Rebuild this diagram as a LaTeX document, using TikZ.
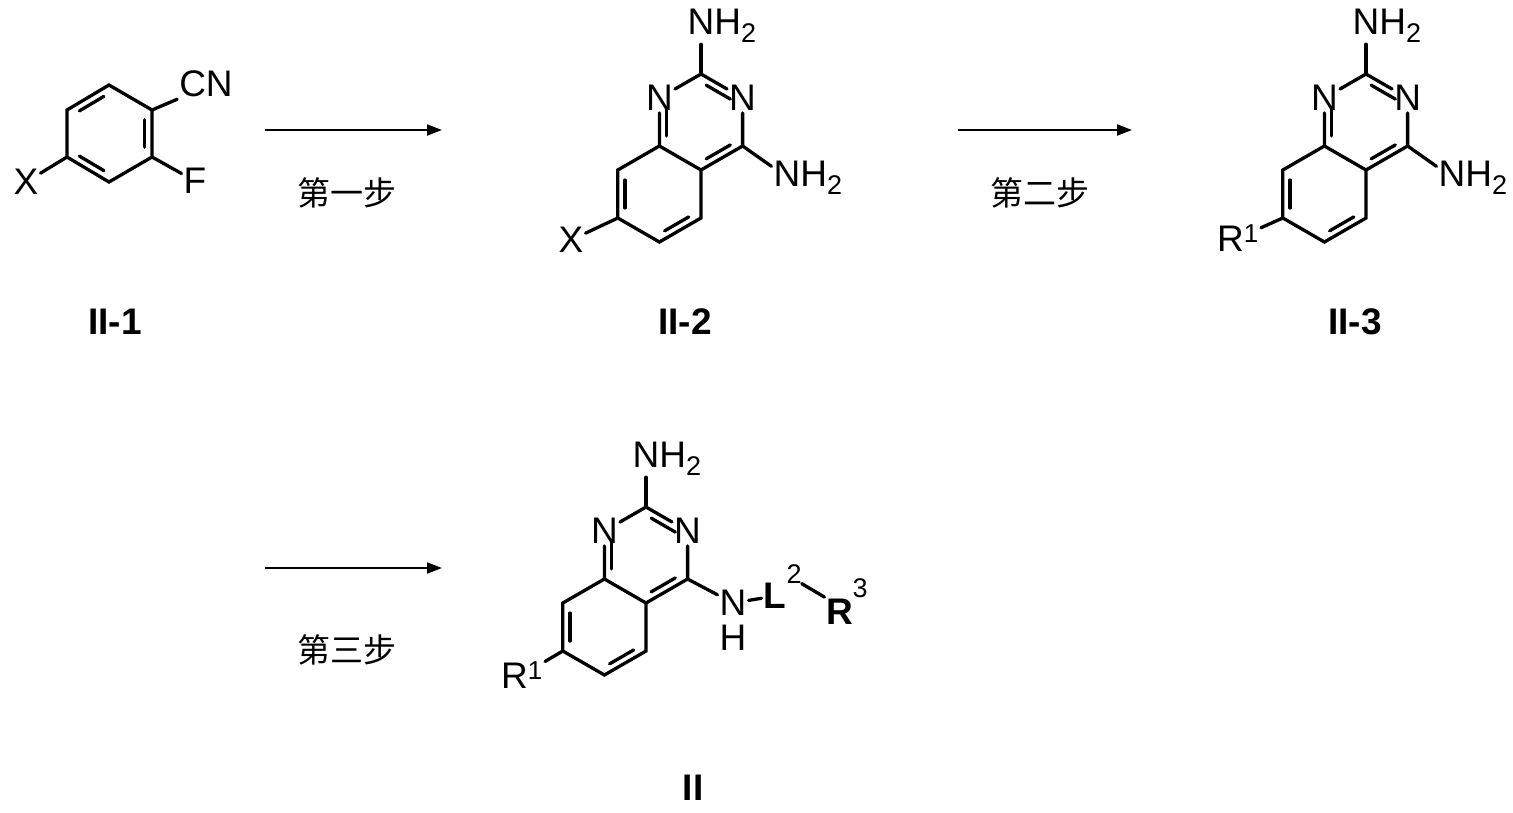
\documentclass[tikz,border=0pt]{standalone}
\usepackage{fontspec}
\setmainfont{Liberation Sans}
\newfontfamily\cjk{Noto Sans CJK SC}
\usetikzlibrary{calc,arrows.meta}
\tikzset{bond/.style={line width=3.3pt,line cap=round},
 atom/.style={inner sep=2pt,font=\fontsize{37}{40}\selectfont},
 sub/.style={inner sep=0pt,font=\fontsize{27}{30}\selectfont},
 cname/.style={font=\bfseries\fontsize{37}{40}\selectfont},
 step label/.style={font=\cjk\fontsize{33}{36}\selectfont},
 rxn/.style={line width=2pt,-{Triangle[length=15pt,width=11pt]}}}
\newcommand\nhtwo{N\rlap{H\raisebox{-8pt}{\fontsize{27}{30}\selectfont 2}}}
\newcommand\dbl[3]{\draw[bond] ($($(#1)!0.15!(#2)$)!0.17!(#3)$) -- ($($(#2)!0.15!(#1)$)!0.17!(#3)$);}
\newcommand\quin[2]{%
 \begin{scope}[shift={#2}]
 \coordinate (#1c2) at (0,-96); \node[atom] (#1n3) at (41.6,-72) {N};
 \coordinate (#1c4) at (41.6,-24); \coordinate (#1c4a) at (0,0);
 \coordinate (#1c8a) at (-41.6,-24); \node[atom] (#1n1) at (-41.6,-72) {N};
 \coordinate (#1c8) at (-83.2,0); \coordinate (#1c7) at (-83.2,48);
 \coordinate (#1c6) at (-41.6,72); \coordinate (#1c5) at (0,48);
 \coordinate (#1p) at (0,-48); \coordinate (#1b) at (-41.6,24);
 \draw[bond] (#1n1) -- (#1c2) -- (#1n3) -- (#1c4) -- (#1c4a) -- (#1c8a) -- (#1n1);
 \draw[bond] (#1c8a) -- (#1c8) -- (#1c7) -- (#1c6) -- (#1c5) -- (#1c4a);
 \dbl{#1c2}{#1n3}{#1p}\dbl{#1c4}{#1c4a}{#1p}\dbl{#1c8a}{#1n1}{#1p}
 \dbl{#1c8}{#1c7}{#1b}\dbl{#1c6}{#1c5}{#1b}
 \node[atom,anchor=base] (#1nt) at (0,-136) {\nhtwo};
 \draw[bond] (#1c2) -- (#1nt);
 \end{scope}}
\begin{document}
\begin{tikzpicture}[x=1pt,y=-1pt]
\useasboundingbox (0,0) rectangle (1513,812);
% II-1
\coordinate (a1) at (152,110); \coordinate (a2) at (152,157); \coordinate (a3) at (109,182);
\coordinate (a4) at (67,157); \coordinate (a5) at (67,110); \coordinate (a6) at (109,85);
\coordinate (ac) at (109.5,133.5);
\draw[bond] (a1) -- (a2) -- (a3) -- (a4) -- (a5) -- (a6) -- (a1);
\dbl{a1}{a2}{ac}\dbl{a3}{a4}{ac}\dbl{a5}{a6}{ac}
\node[atom] (cn) at (206,84) {CN};
\node[atom] (f) at (195,181) {F};
\node[atom] (x1) at (26,182) {X};
\draw[bond] (a1) -- (cn.south west); \draw[bond] (a2) -- (f); \draw[bond] (a4) -- (x1);
\node[cname] (l1) at (115,322) {II-1};
% arrows
\coordinate (r1s) at (265,130); \coordinate (r1e) at (442,130);
\draw[rxn] (r1s) -- (r1e);
\node[step label] (s1) at (347,193) {第一步};
\coordinate (r2s) at (958,130); \coordinate (r2e) at (1132,130);
\draw[rxn] (r2s) -- (r2e);
\node[step label] (s2) at (1040,193) {第二步};
\coordinate (r3s) at (265,568); \coordinate (r3e) at (442,568);
\draw[rxn] (r3s) -- (r3e);
\node[step label] (s3) at (347,650) {第三步};
% II-2
\quin{b}{(701,170)}
\node[atom,anchor=base] (bn4) at (787,186) {\nhtwo};
\draw[bond] (bc4) -- (bn4);
\node[atom] (x2) at (571,240) {X};
\draw[bond] (bc7) -- (x2);
\node[cname] (l2) at (685,322) {II-2};
% II-3
\quin{c}{(1366,170)}
\node[atom,anchor=base] (cn4) at (1452,186) {\nhtwo};
\draw[bond] (cc4) -- (cn4);
\node[atom] (cr1) at (1238,238) {R\textsuperscript{1}};
\draw[bond] (cc7) -- (cr1);
\node[cname] (l3) at (1355,322) {II-3};
% II
\quin{d}{(646,603)}
\node[atom] (dnh) at (733,603) {N};
\node[atom,inner sep=0pt] (dh) at (733,638) {H};
\draw[bond] (dc4) -- (dnh);
\node[atom,font=\bfseries\fontsize{37}{40}\selectfont] (dl) at (775,596) {L};
\node[sub] (dl2) at (794,574) {2};
\node[atom,font=\bfseries\fontsize{37}{40}\selectfont] (dr3) at (840,612) {R};
\node[sub] (dr32) at (860,588) {3};
\draw[bond] (dnh) -- (dl);
\draw[bond] (dl2.south east) -- (dr3.north west);
\node[atom] (dr1) at (522,675) {R\textsuperscript{1}};
\draw[bond] (dc7) -- (dr1);
\node[cname] (l4) at (693,788) {II};
\end{tikzpicture}
\end{document}
